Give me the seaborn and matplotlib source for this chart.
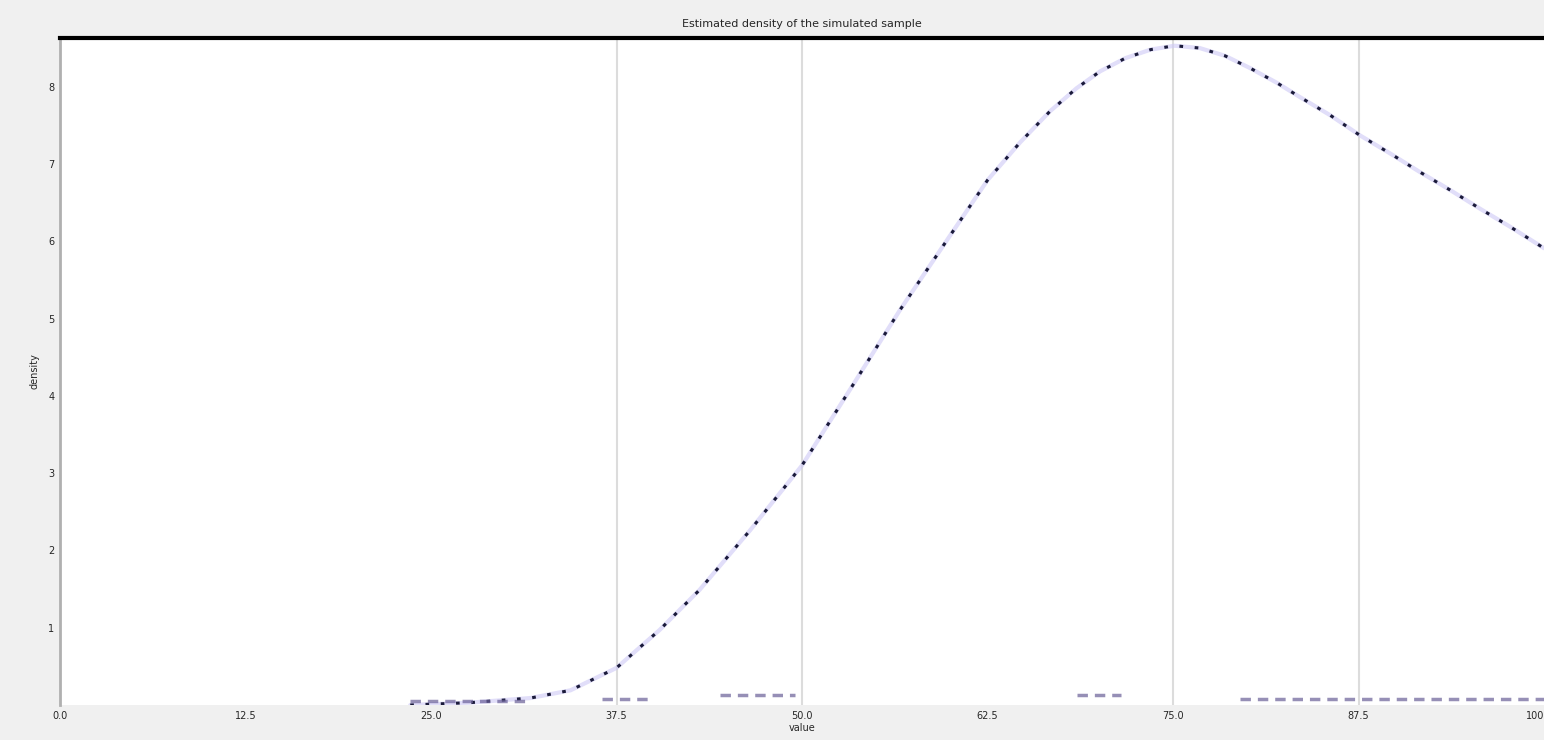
import numpy as np
import pandas as pd
import matplotlib
matplotlib.use("Agg")
import matplotlib.pyplot as plt
import seaborn as sns

# data
x_vals = [23.6, 27.6, 31.7, 34.4, 37.5, 40.4, 43.1, 46.5, 50.0, 53.2, 56.6, 60.0,
          62.5, 64.7, 66.7, 68.5, 70.1, 71.8, 73.5, 75.1, 76.8, 78.5, 80.2, 82.0,
          83.6, 85.6, 87.6, 89.6, 91.6, 93.7, 95.7, 97.7, 100.0]
density = [0.0, 0.03, 0.09, 0.19, 0.48, 0.97, 1.49, 2.26, 3.10, 4.07, 5.11, 6.08,
           6.79, 7.28, 7.68, 7.98, 8.20, 8.37, 8.48, 8.53, 8.50, 8.40, 8.24, 8.05,
           7.86, 7.63, 7.37, 7.14, 6.90, 6.66, 6.42, 6.19, 5.91]
base_x = [23.6, 31.7, 36.5, 40.0, 44.5, 49.5, 68.5, 71.5, 79.5, 100.0]
base_y = [0.05, 0.05, 0.08, 0.08, 0.13, 0.13, 0.13, 0.13, 0.08, 0.08]
base_seg = [0, 0, 1, 1, 2, 2, 3, 3, 4, 4]
x_ticks = [0, 12.5, 25, 37.5, 50, 62.5, 75, 87.5, 100]
x_tick_labels = ["0.0", "12.5", "25.0", "37.5", "50.0", "62.5", "75.0", "87.5", "100"]
grid_x = [37.5, 50, 75, 87.5]
y_ticks = [1, 2, 3, 4, 5, 6, 7, 8]
title = "Estimated density of the simulated sample"
x_label = "value"
y_label = "density"

sns.set_style("white")
plt.rcParams['font.family'] = ['DejaVu Sans']

fig = plt.figure(figsize=(15.44, 7.40), dpi=100, facecolor="#f0f0f0")
ax = fig.add_axes([60/1544, 35/740, 1 - 60/1544, (705-38)/740])
ax.set_facecolor("white")

for gx in grid_x:
    ax.axvline(gx, color="#dcdcdc", lw=1.5, zorder=0)

df = pd.DataFrame({"x": x_vals, "y": density})
sns.lineplot(data=df, x="x", y="y", ax=ax, color="#cdc8f6", lw=3, alpha=0.6)
sns.lineplot(data=df, x="x", y="y", ax=ax, color="#1a1a3a", lw=2.2,
             linestyle=(0, (1.2, 3.8)))

bdf = pd.DataFrame({"x": base_x, "y": base_y, "seg": base_seg})
for s, g in bdf.groupby("seg"):
    sns.lineplot(data=g, x="x", y="y", ax=ax, color="#6a6098", lw=2.5,
                 linestyle=(0, (3, 2)), alpha=0.7)

ax.set_xlim(0, 100)
ax.set_ylim(0, 8.63)
ax.set_xticks(x_ticks)
ax.set_xticklabels(x_tick_labels, fontsize=7)
ax.get_xticklabels()[-1].set_ha("right")
ax.set_yticks(y_ticks)
ax.set_yticklabels([str(v) for v in y_ticks], fontsize=7)
ax.tick_params(length=0, pad=4)
ax.set_title(title, fontsize=8, pad=8)
ax.set_xlabel(x_label, fontsize=7, labelpad=2)
ax.set_ylabel(y_label, fontsize=7, labelpad=6)

for side in ["right", "bottom"]:
    ax.spines[side].set_visible(False)
ax.spines["top"].set_color("black")
ax.spines["top"].set_linewidth(3)
ax.spines["left"].set_color("#b0b0b0")
ax.spines["left"].set_linewidth(2)

fig.savefig("out.png", dpi=100, facecolor=fig.get_facecolor())
